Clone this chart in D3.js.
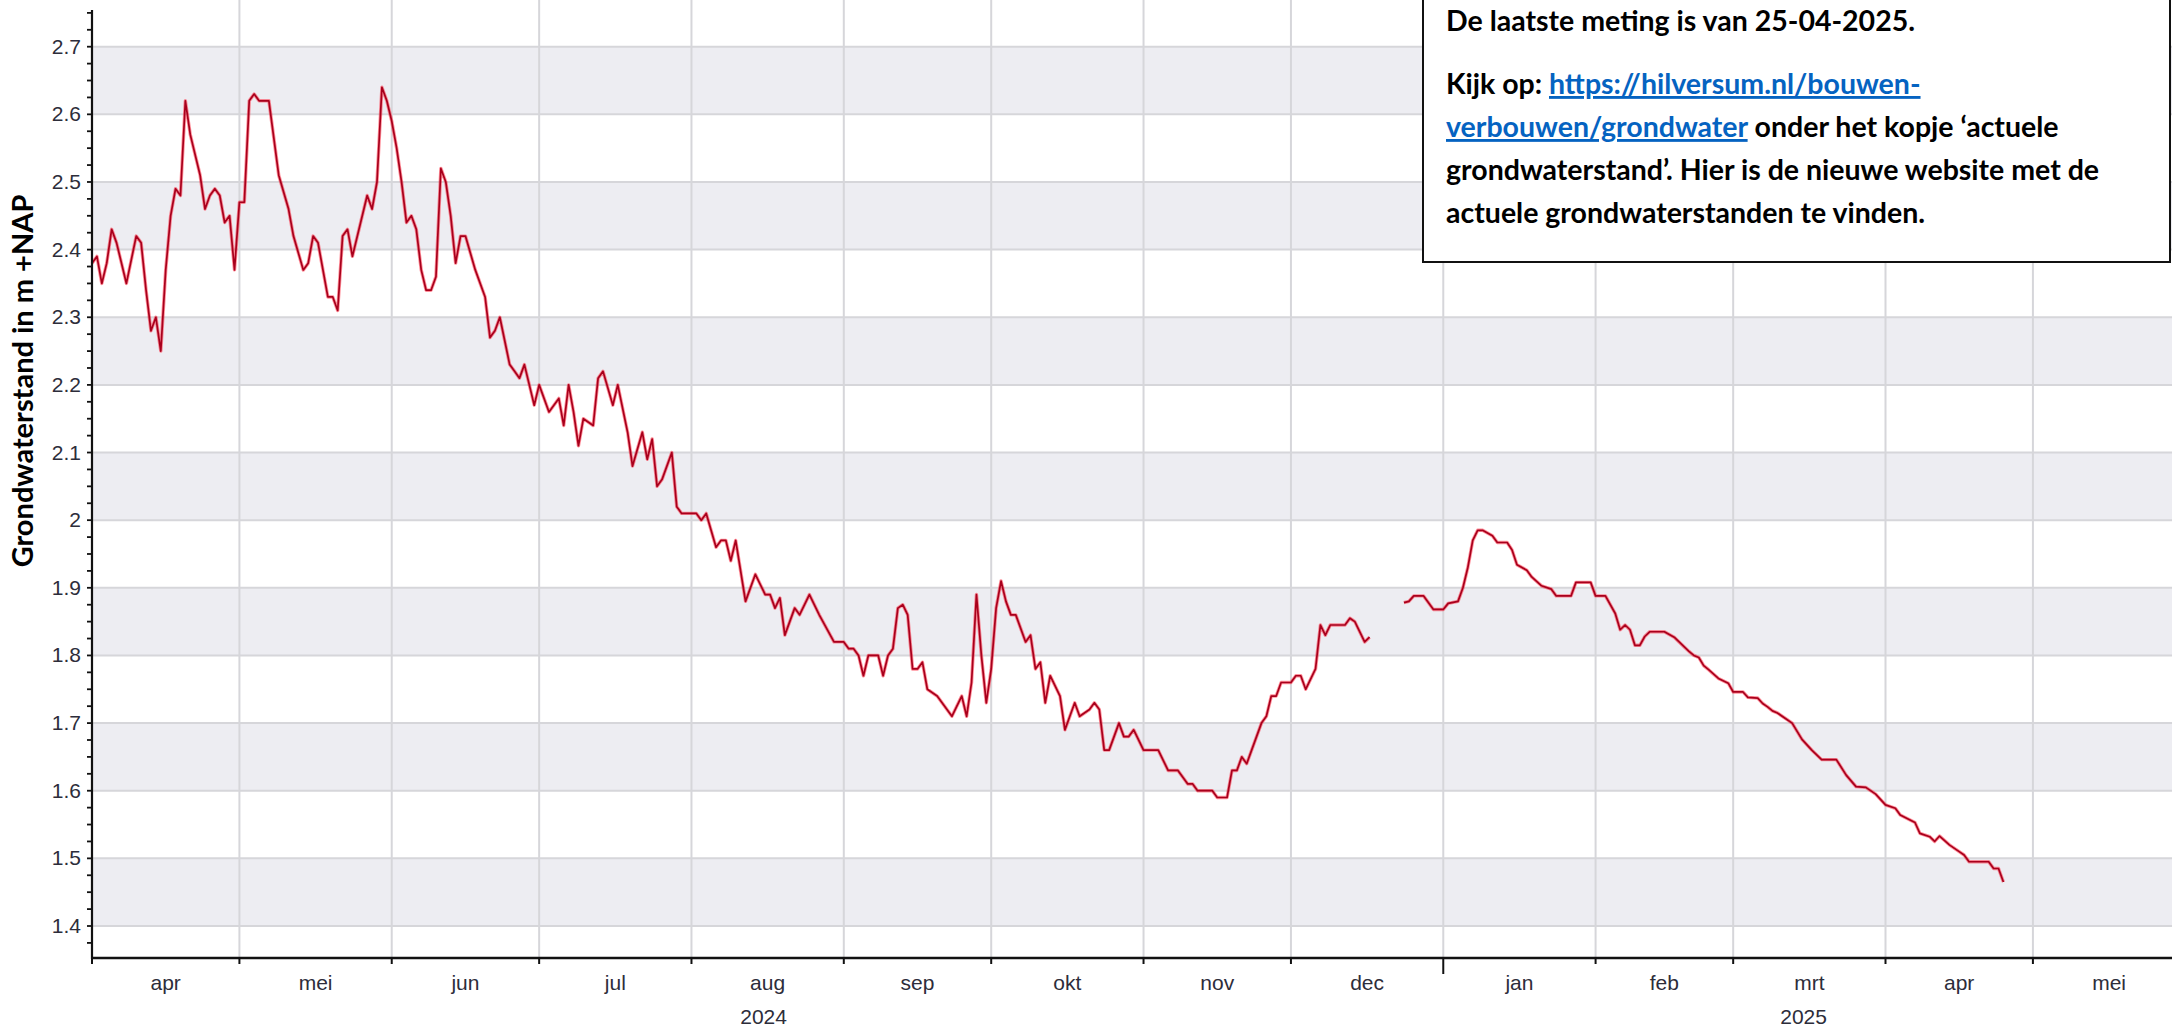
<!DOCTYPE html>
<html>
<head>
<meta charset="utf-8">
<script src="https://cdn.jsdelivr.net/npm/d3@7"></script>
<style>
  body { margin: 0; background: #fff; overflow: hidden; }
</style>
</head>
<body>
<div id="chart"></div>
<script>
var dates = [
  "2024-04-01","2024-04-02","2024-04-03","2024-04-04","2024-04-05","2024-04-06","2024-04-08","2024-04-10",
  "2024-04-11","2024-04-12","2024-04-13","2024-04-14","2024-04-15","2024-04-16","2024-04-17","2024-04-18",
  "2024-04-19","2024-04-20","2024-04-21","2024-04-23","2024-04-24","2024-04-25","2024-04-26","2024-04-27",
  "2024-04-28","2024-04-29","2024-04-30","2024-05-01","2024-05-02","2024-05-03","2024-05-04","2024-05-05",
  "2024-05-07","2024-05-09","2024-05-11","2024-05-12","2024-05-14","2024-05-15","2024-05-16","2024-05-17",
  "2024-05-19","2024-05-20","2024-05-21","2024-05-22","2024-05-23","2024-05-24","2024-05-27","2024-05-28",
  "2024-05-29","2024-05-30","2024-05-31","2024-06-01","2024-06-02","2024-06-03","2024-06-04","2024-06-05",
  "2024-06-06","2024-06-07","2024-06-08","2024-06-09","2024-06-10","2024-06-11","2024-06-12","2024-06-13",
  "2024-06-14","2024-06-15","2024-06-16","2024-06-18","2024-06-20","2024-06-21","2024-06-22","2024-06-23",
  "2024-06-25","2024-06-26","2024-06-27","2024-06-28","2024-06-29","2024-06-30","2024-07-01","2024-07-03",
  "2024-07-05","2024-07-06","2024-07-07","2024-07-08","2024-07-09","2024-07-10","2024-07-12","2024-07-13",
  "2024-07-14","2024-07-16","2024-07-17","2024-07-19","2024-07-20","2024-07-22","2024-07-23","2024-07-24",
  "2024-07-25","2024-07-26","2024-07-28","2024-07-29","2024-07-30","2024-08-02","2024-08-03","2024-08-04",
  "2024-08-06","2024-08-07","2024-08-08","2024-08-09","2024-08-10","2024-08-12","2024-08-14","2024-08-16",
  "2024-08-17","2024-08-18","2024-08-19","2024-08-20","2024-08-22","2024-08-23","2024-08-25","2024-08-27",
  "2024-08-30","2024-09-01","2024-09-02","2024-09-03","2024-09-04","2024-09-05","2024-09-06","2024-09-08",
  "2024-09-09","2024-09-10","2024-09-11","2024-09-12","2024-09-13","2024-09-14","2024-09-15","2024-09-16",
  "2024-09-17","2024-09-18","2024-09-20","2024-09-21","2024-09-23","2024-09-25","2024-09-26","2024-09-27",
  "2024-09-28","2024-09-29","2024-09-30","2024-10-01","2024-10-02","2024-10-03","2024-10-04","2024-10-05",
  "2024-10-06","2024-10-08","2024-10-09","2024-10-10","2024-10-11","2024-10-12","2024-10-13","2024-10-15",
  "2024-10-16","2024-10-17","2024-10-18","2024-10-19","2024-10-21","2024-10-22","2024-10-23","2024-10-24",
  "2024-10-25","2024-10-27","2024-10-28","2024-10-29","2024-10-30","2024-11-01","2024-11-04","2024-11-06",
  "2024-11-08","2024-11-10","2024-11-11","2024-11-12","2024-11-15","2024-11-16","2024-11-18","2024-11-19",
  "2024-11-20","2024-11-21","2024-11-22","2024-11-23","2024-11-25","2024-11-26","2024-11-27","2024-11-28",
  "2024-11-29","2024-12-01","2024-12-02","2024-12-03","2024-12-04","2024-12-06","2024-12-07","2024-12-08",
  "2024-12-09","2024-12-12","2024-12-13","2024-12-14","2024-12-16","2024-12-17","2024-12-20","2024-12-24",
  "2024-12-25","2024-12-26","2024-12-28","2024-12-30","2025-01-01","2025-01-02","2025-01-04","2025-01-05",
  "2025-01-06","2025-01-07","2025-01-08","2025-01-09","2025-01-11","2025-01-12","2025-01-14","2025-01-15",
  "2025-01-16","2025-01-18","2025-01-19","2025-01-21","2025-01-23","2025-01-24","2025-01-27","2025-01-28",
  "2025-01-31","2025-02-01","2025-02-03","2025-02-05","2025-02-06","2025-02-07","2025-02-08","2025-02-09",
  "2025-02-10","2025-02-11","2025-02-12","2025-02-15","2025-02-17","2025-02-19","2025-02-20","2025-02-21",
  "2025-02-22","2025-02-23","2025-02-24","2025-02-26","2025-02-28","2025-03-01","2025-03-03","2025-03-04",
  "2025-03-06","2025-03-07","2025-03-08","2025-03-09","2025-03-10","2025-03-12","2025-03-13","2025-03-15",
  "2025-03-17","2025-03-19","2025-03-22","2025-03-24","2025-03-26","2025-03-28","2025-03-30","2025-04-01",
  "2025-04-03","2025-04-04","2025-04-07","2025-04-08","2025-04-10","2025-04-11","2025-04-12","2025-04-14",
  "2025-04-16","2025-04-17","2025-04-18","2025-04-22","2025-04-23","2025-04-24","2025-04-25"
];
var levels = [
  2.38, 2.39, 2.35, 2.38, 2.43, 2.41, 2.35, 2.42,
  2.41, 2.34, 2.28, 2.30, 2.25, 2.37, 2.45, 2.49,
  2.48, 2.62, 2.57, 2.51, 2.46, 2.48, 2.49, 2.48,
  2.44, 2.45, 2.37, 2.47, 2.47, 2.62, 2.63, 2.62,
  2.62, 2.51, 2.46, 2.42, 2.37, 2.38, 2.42, 2.41,
  2.33, 2.33, 2.31, 2.42, 2.43, 2.39, 2.48, 2.46,
  2.50, 2.64, 2.62, 2.59, 2.55, 2.50, 2.44, 2.45,
  2.43, 2.37, 2.34, 2.34, 2.36, 2.52, 2.50, 2.45,
  2.38, 2.42, 2.42, 2.37, 2.33, 2.27, 2.28, 2.30,
  2.23, 2.22, 2.21, 2.23, 2.20, 2.17, 2.20, 2.16,
  2.18, 2.14, 2.20, 2.16, 2.11, 2.15, 2.14, 2.21,
  2.22, 2.17, 2.20, 2.13, 2.08, 2.13, 2.09, 2.12,
  2.05, 2.06, 2.10, 2.02, 2.01, 2.01, 2.00, 2.01,
  1.96, 1.97, 1.97, 1.94, 1.97, 1.88, 1.92, 1.89,
  1.89, 1.87, 1.885, 1.83, 1.87, 1.86, 1.89, 1.86,
  1.82, 1.82, 1.81, 1.81, 1.80, 1.77, 1.80, 1.80,
  1.77, 1.80, 1.81, 1.87, 1.875, 1.86, 1.78, 1.78,
  1.79, 1.75, 1.74, 1.73, 1.71, 1.74, 1.71, 1.76,
  1.89, 1.80, 1.73, 1.78, 1.87, 1.91, 1.88, 1.86,
  1.86, 1.82, 1.83, 1.78, 1.79, 1.73, 1.77, 1.74,
  1.69, 1.71, 1.73, 1.71, 1.72, 1.73, 1.72, 1.66,
  1.66, 1.70, 1.68, 1.68, 1.69, 1.66, 1.66, 1.63,
  1.63, 1.61, 1.61, 1.60, 1.60, 1.59, 1.59, 1.63,
  1.63, 1.65, 1.64, 1.66, 1.70, 1.71, 1.74, 1.74,
  1.76, 1.76, 1.77, 1.77, 1.75, 1.78, 1.845, 1.83,
  1.845, 1.845, 1.855, 1.85, 1.82, 1.827, null, 1.878,
  1.88, 1.888, 1.888, 1.868, 1.868, 1.877, 1.88, 1.90,
  1.93, 1.97, 1.985, 1.985, 1.977, 1.967, 1.967, 1.956,
  1.934, 1.926, 1.916, 1.903, 1.898, 1.888, 1.888, 1.908,
  1.908, 1.888, 1.888, 1.862, 1.838, 1.845, 1.838, 1.815,
  1.815, 1.828, 1.835, 1.835, 1.827, 1.813, 1.806, 1.80,
  1.797, 1.785, 1.779, 1.766, 1.759, 1.746, 1.746, 1.738,
  1.737, 1.729, 1.724, 1.718, 1.715, 1.705, 1.70, 1.676,
  1.66, 1.646, 1.646, 1.623, 1.606, 1.605, 1.595, 1.579,
  1.574, 1.564, 1.553, 1.537, 1.532, 1.525, 1.533, 1.52,
  1.51, 1.505, 1.495, 1.495, 1.485, 1.485, 1.465
];

var monthNames = ["jan","feb","mrt","apr","mei","jun","jul","aug","sep","okt","nov","dec"];
var yTicks = [1.4, 1.5, 1.6, 1.7, 1.8, 1.9, 2.0, 2.1, 2.2, 2.3, 2.4, 2.5, 2.6, 2.7];
var yTitle = "Grondwaterstand in m +NAP";
var noteLines = [
  [{t: "De laatste meting is van 25-04-2025."}],
  [{t: "Kijk op: "}, {t: "https://hilversum.nl/bouwen-", link: true}],
  [{t: "verbouwen/grondwater", link: true}, {t: " onder het kopje \u2018actuele"}],
  [{t: "grondwaterstand\u2019. Hier is de nieuwe website met de"}],
  [{t: "actuele grondwaterstanden te vinden."}]
];

var W = 2172, H = 1028;
var plotLeft = 92, plotTop = 10, plotBottom = 958;

var parse = d3.timeParse("%Y-%m-%d");
var data = dates.map(function (d, i) { return {date: parse(d), v: levels[i]}; });

var svg = d3.select("#chart").append("svg")
  .attr("width", W).attr("height", H)
  .style("font-family", "'Liberation Sans', Arial, sans-serif");

// x: one day is about 4.91 px, window runs on past the right edge
var x = d3.scaleTime()
  .domain([new Date(2024, 3, 1), new Date(2025, 4, 29)])
  .range([plotLeft, plotLeft + 423 * 4.9137]);

var y = d3.scaleLinear()
  .domain([1.4, 2.7])
  .range([926, 46.7]);

// alternating bands
var bands = svg.append("g");
yTicks.forEach(function (t, i) {
  if (i % 2 === 0 && i < yTicks.length - 1) {
    bands.append("rect")
      .attr("x", plotLeft).attr("width", W - plotLeft)
      .attr("y", y(yTicks[i + 1])).attr("height", y(t) - y(yTicks[i + 1]))
      .attr("fill", "#ededf2");
  }
});

// grid
var months = d3.timeMonth.range(new Date(2024, 4, 1), x.domain()[1]);
svg.append("g").selectAll("line").data(months).join("line")
  .attr("x1", d => x(d)).attr("x2", d => x(d))
  .attr("y1", plotTop - 10).attr("y2", plotBottom)
  .attr("stroke", "#d6d6da").attr("stroke-width", 2);
svg.append("g").selectAll("line").data(yTicks).join("line")
  .attr("x1", plotLeft).attr("x2", W)
  .attr("y1", d => y(d)).attr("y2", d => y(d))
  .attr("stroke", "#d6d6da").attr("stroke-width", 2);

// the series
var line = d3.line()
  .defined(d => d.v !== null)
  .x(d => x(d.date))
  .y(d => y(d.v));

svg.append("path").datum(data)
  .attr("fill", "none")
  .attr("stroke", "#ff1f35").attr("stroke-opacity", 0.5)
  .attr("stroke-width", 3.4)
  .attr("stroke-linejoin", "round")
  .attr("d", line);
svg.append("path").datum(data)
  .attr("fill", "none")
  .attr("stroke", "#a8001c")
  .attr("stroke-width", 1.7)
  .attr("stroke-linejoin", "round")
  .attr("d", line);

// y axis
var yMinor = d3.range(1.375, 2.7501, 0.025);
var yAx = svg.append("g");
yAx.append("line")
  .attr("x1", plotLeft).attr("x2", plotLeft)
  .attr("y1", plotTop).attr("y2", plotBottom + 1)
  .attr("stroke", "#111").attr("stroke-width", 2.2);
yAx.selectAll(".minor").data(yMinor).join("line")
  .attr("x1", plotLeft - 5).attr("x2", plotLeft)
  .attr("y1", d => y(d)).attr("y2", d => y(d))
  .attr("stroke", "#111").attr("stroke-width", 1.8);
yAx.selectAll("text").data(yTicks).join("text")
  .attr("x", plotLeft - 11).attr("y", d => y(d) + 7)
  .attr("text-anchor", "end")
  .attr("font-size", 21).attr("fill", "#2d2d3a")
  .text(d => d3.format("")(+d.toFixed(1)));

svg.append("text")
  .attr("transform", "translate(33," + ((plotTop + plotBottom) / 2 - 103) + ") rotate(-90)")
  .attr("text-anchor", "middle")
  .style("font-family", "Lato, 'Open Sans', sans-serif")
  .attr("font-weight", "bold").attr("font-size", 29).attr("fill", "#000")
  .text(yTitle);

// x axis
var xAx = svg.append("g");
xAx.append("line")
  .attr("x1", plotLeft - 1).attr("x2", W)
  .attr("y1", plotBottom).attr("y2", plotBottom)
  .attr("stroke", "#111").attr("stroke-width", 2.6);
var monthTicks = d3.timeMonth.range(x.domain()[0], x.domain()[1]);
xAx.selectAll(".tick").data(monthTicks).join("line")
  .attr("x1", d => x(d)).attr("x2", d => x(d))
  .attr("y1", plotBottom)
  .attr("y2", d => plotBottom + (d.getMonth() === 0 ? 16 : 6))
  .attr("stroke", "#111").attr("stroke-width", 2);
xAx.selectAll(".mlabel").data(monthTicks).join("text")
  .attr("x", d => (x(d) + x(d3.timeMonth.offset(d, 1))) / 2)
  .attr("y", 990)
  .attr("text-anchor", "middle")
  .attr("font-size", 21).attr("fill", "#2d2d3a")
  .text(d => monthNames[d.getMonth()]);

var years = [2024, 2025];
xAx.selectAll(".ylabel").data(years).join("text")
  .attr("x", function (yr) {
    var a = Math.max(x(new Date(yr, 0, 1)), plotLeft);
    var b = Math.min(x(new Date(yr + 1, 0, 1)), W);
    return (a + b) / 2 - 4;
  })
  .attr("y", 1024)
  .attr("text-anchor", "middle")
  .attr("font-size", 21).attr("fill", "#2d2d3a")
  .text(d => d);

// note box
var note = svg.append("g");
note.append("rect")
  .attr("x", 1423).attr("y", -4).attr("width", 747).attr("height", 266)
  .attr("fill", "#fff").attr("stroke", "#111").attr("stroke-width", 2);
var noteY = [31, 94, 137, 180, 223];
noteLines.forEach(function (parts, i) {
  var t = note.append("text")
    .attr("x", 1446).attr("y", noteY[i])
    .style("font-family", "Lato, 'Open Sans', sans-serif")
    .attr("font-weight", "bold").attr("font-size", 28.5).attr("fill", "#000");
  parts.forEach(function (p) {
    var s = t.append("tspan").text(p.t);
    if (p.link) s.attr("fill", "#0563c1").style("text-decoration", "underline");
  });
});
</script>
</body>
</html>
